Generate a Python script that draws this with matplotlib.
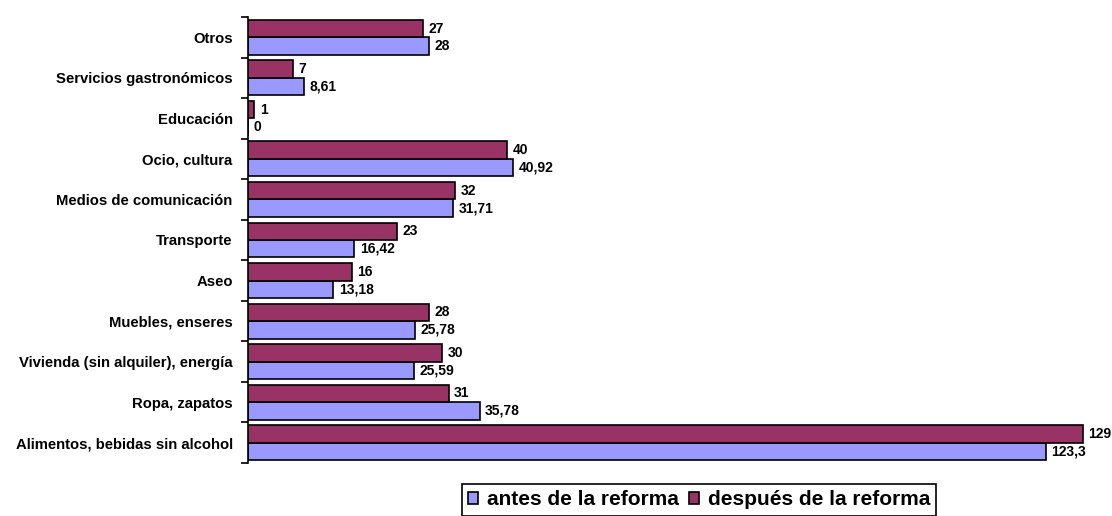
import numpy as np
import matplotlib
matplotlib.use('Agg')
import matplotlib.pyplot as plt
from matplotlib.ticker import FixedLocator, NullFormatter

plt.rcParams['font.family'] = ['Liberation Sans', 'DejaVu Sans']

# categorías de arriba a abajo
categorias = ['Otros', 'Servicios gastronómicos', 'Educación', 'Ocio, cultura',
              'Medios de comunicación', 'Transporte', 'Aseo', 'Muebles, enseres',
              'Vivienda (sin alquiler), energía', 'Ropa, zapatos',
              'Alimentos, bebidas sin alcohol']
antes = [28, 8.61, 0, 40.92, 31.71, 16.42, 13.18, 25.78, 25.59, 35.78, 123.3]
despues = [27, 7, 1, 40, 32, 23, 16, 28, 30, 31, 129]

col_antes = '#9999FF'
col_despues = '#993366'

fig = plt.figure(figsize=(11.12, 5.16), dpi=100)
ax = fig.add_axes([248 / 1112, 53 / 516, 864 / 1112, 446 / 516])

y = np.arange(len(categorias))
h = 0.43
b1 = ax.barh(y + h / 2, antes, height=h, color=col_antes, edgecolor='black',
             linewidth=1.2, label='antes de la reforma')
b2 = ax.barh(y - h / 2, despues, height=h, color=col_despues, edgecolor='black',
             linewidth=1.2, label='después de la reforma')


def fmt(v):
    return ('%g' % v).replace('.', ',')


for yy, v in zip(y, antes):
    ax.annotate(fmt(v), xy=(v, yy + h / 2), xytext=(4, 0), textcoords='offset points',
                va='center', ha='left', fontsize=10, fontweight='bold', clip_on=False)
for yy, v in zip(y, despues):
    ax.annotate(fmt(v), xy=(v, yy - h / 2), xytext=(4, 0), textcoords='offset points',
                va='center', ha='left', fontsize=10, fontweight='bold', clip_on=False)

ax.set_xlim(0, 133.5)
ax.set_ylim(len(categorias) - 0.5, -0.5)
ax.set_yticks(y)
ax.set_yticklabels(categorias, fontsize=10.7, fontweight='bold')
ax.tick_params(axis='y', which='major', length=0, pad=11)
ax.yaxis.set_minor_locator(FixedLocator(np.arange(-0.5, len(categorias), 1)))
ax.yaxis.set_minor_formatter(NullFormatter())
ax.tick_params(axis='y', which='minor', length=5, width=1.2, direction='out')
ax.set_xticks([])
for s in ['top', 'right', 'bottom']:
    ax.spines[s].set_visible(False)
ax.spines['left'].set_linewidth(1.2)

# leyenda abajo, el borde inferior queda casi en el límite de la imagen
leg = fig.legend(handles=[b1, b2], loc='upper center', bbox_to_anchor=(699 / 1112, 1 - 484 / 516),
                 ncol=2, frameon=True, fancybox=False, edgecolor='black', framealpha=1,
                 prop={'size': 15, 'weight': 'bold'}, handlelength=0.5, handleheight=0.5,
                 handletextpad=0.4, columnspacing=0.5, borderpad=0.3, borderaxespad=0)
leg.get_frame().set_linewidth(1.2)

fig.savefig('out.png', dpi=100)
